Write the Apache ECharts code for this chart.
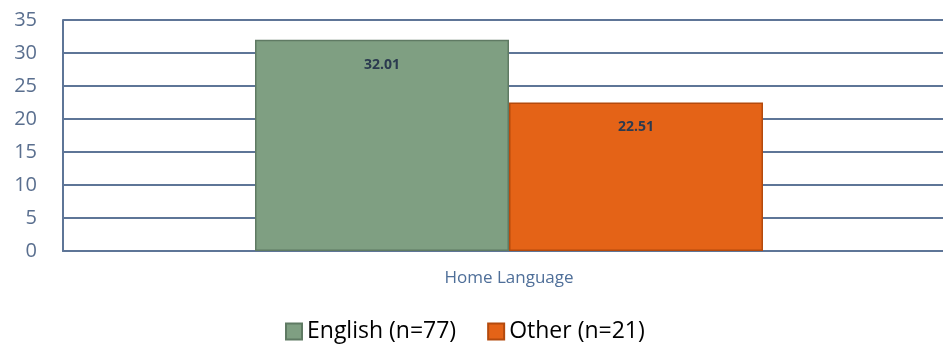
<!DOCTYPE html>
<html>
<head>
<meta charset="utf-8">
<script src="https://cdn.jsdelivr.net/npm/echarts@6/dist/echarts.min.js"></script>
<style>
  html, body { margin: 0; padding: 0; background: #fff; }
  #chart { width: 943px; height: 350px; }
</style>
</head>
<body>
<div id="chart"></div>
<script>
const categories = ['Home Language']
const seriesNames = ['English (n=77)', 'Other (n=21)']
const englishValues = [32.01]
const otherValues = [22.51]
const yTicks = { min: 0, max: 35, interval: 5 }

const chart = echarts.init(document.getElementById('chart'))

const labelStyle = {
  show: true,
  position: 'insideTop',
  distance: 18,
  color: '#2b3a4f',
  fontWeight: 'bold',
  fontSize: 14,
  fontFamily: 'Open Sans'
}

const option = {
  animation: false,
  textStyle: { fontFamily: 'Open Sans' },
  grid: { left: 63, right: -12, top: 20, bottom: 99, outerBoundsMode: 'none' },
  legend: {
    bottom: 2,
    left: 280,
    icon: 'rect',
    itemWidth: 16,
    itemHeight: 16,
    itemGap: 31,
    textStyle: { fontSize: 23, color: '#000', fontFamily: 'Open Sans' },
    data: seriesNames
  },
  xAxis: {
    type: 'category',
    data: categories,
    axisLine: { show: true, lineStyle: { color: '#5e7597', width: 2 } },
    axisTick: { show: false },
    axisLabel: { color: '#4f6f99', fontSize: 17, margin: 19 }
  },
  yAxis: {
    type: 'value',
    min: yTicks.min,
    max: yTicks.max,
    interval: yTicks.interval,
    axisLine: { show: true, lineStyle: { color: '#5e7597', width: 2 } },
    axisTick: { show: false },
    axisLabel: { color: '#5a6f8f', fontSize: 20, margin: 26 },
    splitLine: { lineStyle: { color: '#5e7597', width: 2 } }
  },
  series: [
    {
      name: seriesNames[0],
      type: 'bar',
      data: englishValues,
      barWidth: 254,
      barGap: '0%',
      itemStyle: { color: '#7f9f82', borderColor: '#5f7a63', borderWidth: 1.5 },
      label: labelStyle
    },
    {
      name: seriesNames[1],
      type: 'bar',
      data: otherValues,
      barWidth: 254,
      barGap: '0%',
      itemStyle: { color: '#e46317', borderColor: '#b44a0d', borderWidth: 1.5 },
      label: labelStyle
    }
  ]
}

chart.setOption(option)
</script>
</body>
</html>
